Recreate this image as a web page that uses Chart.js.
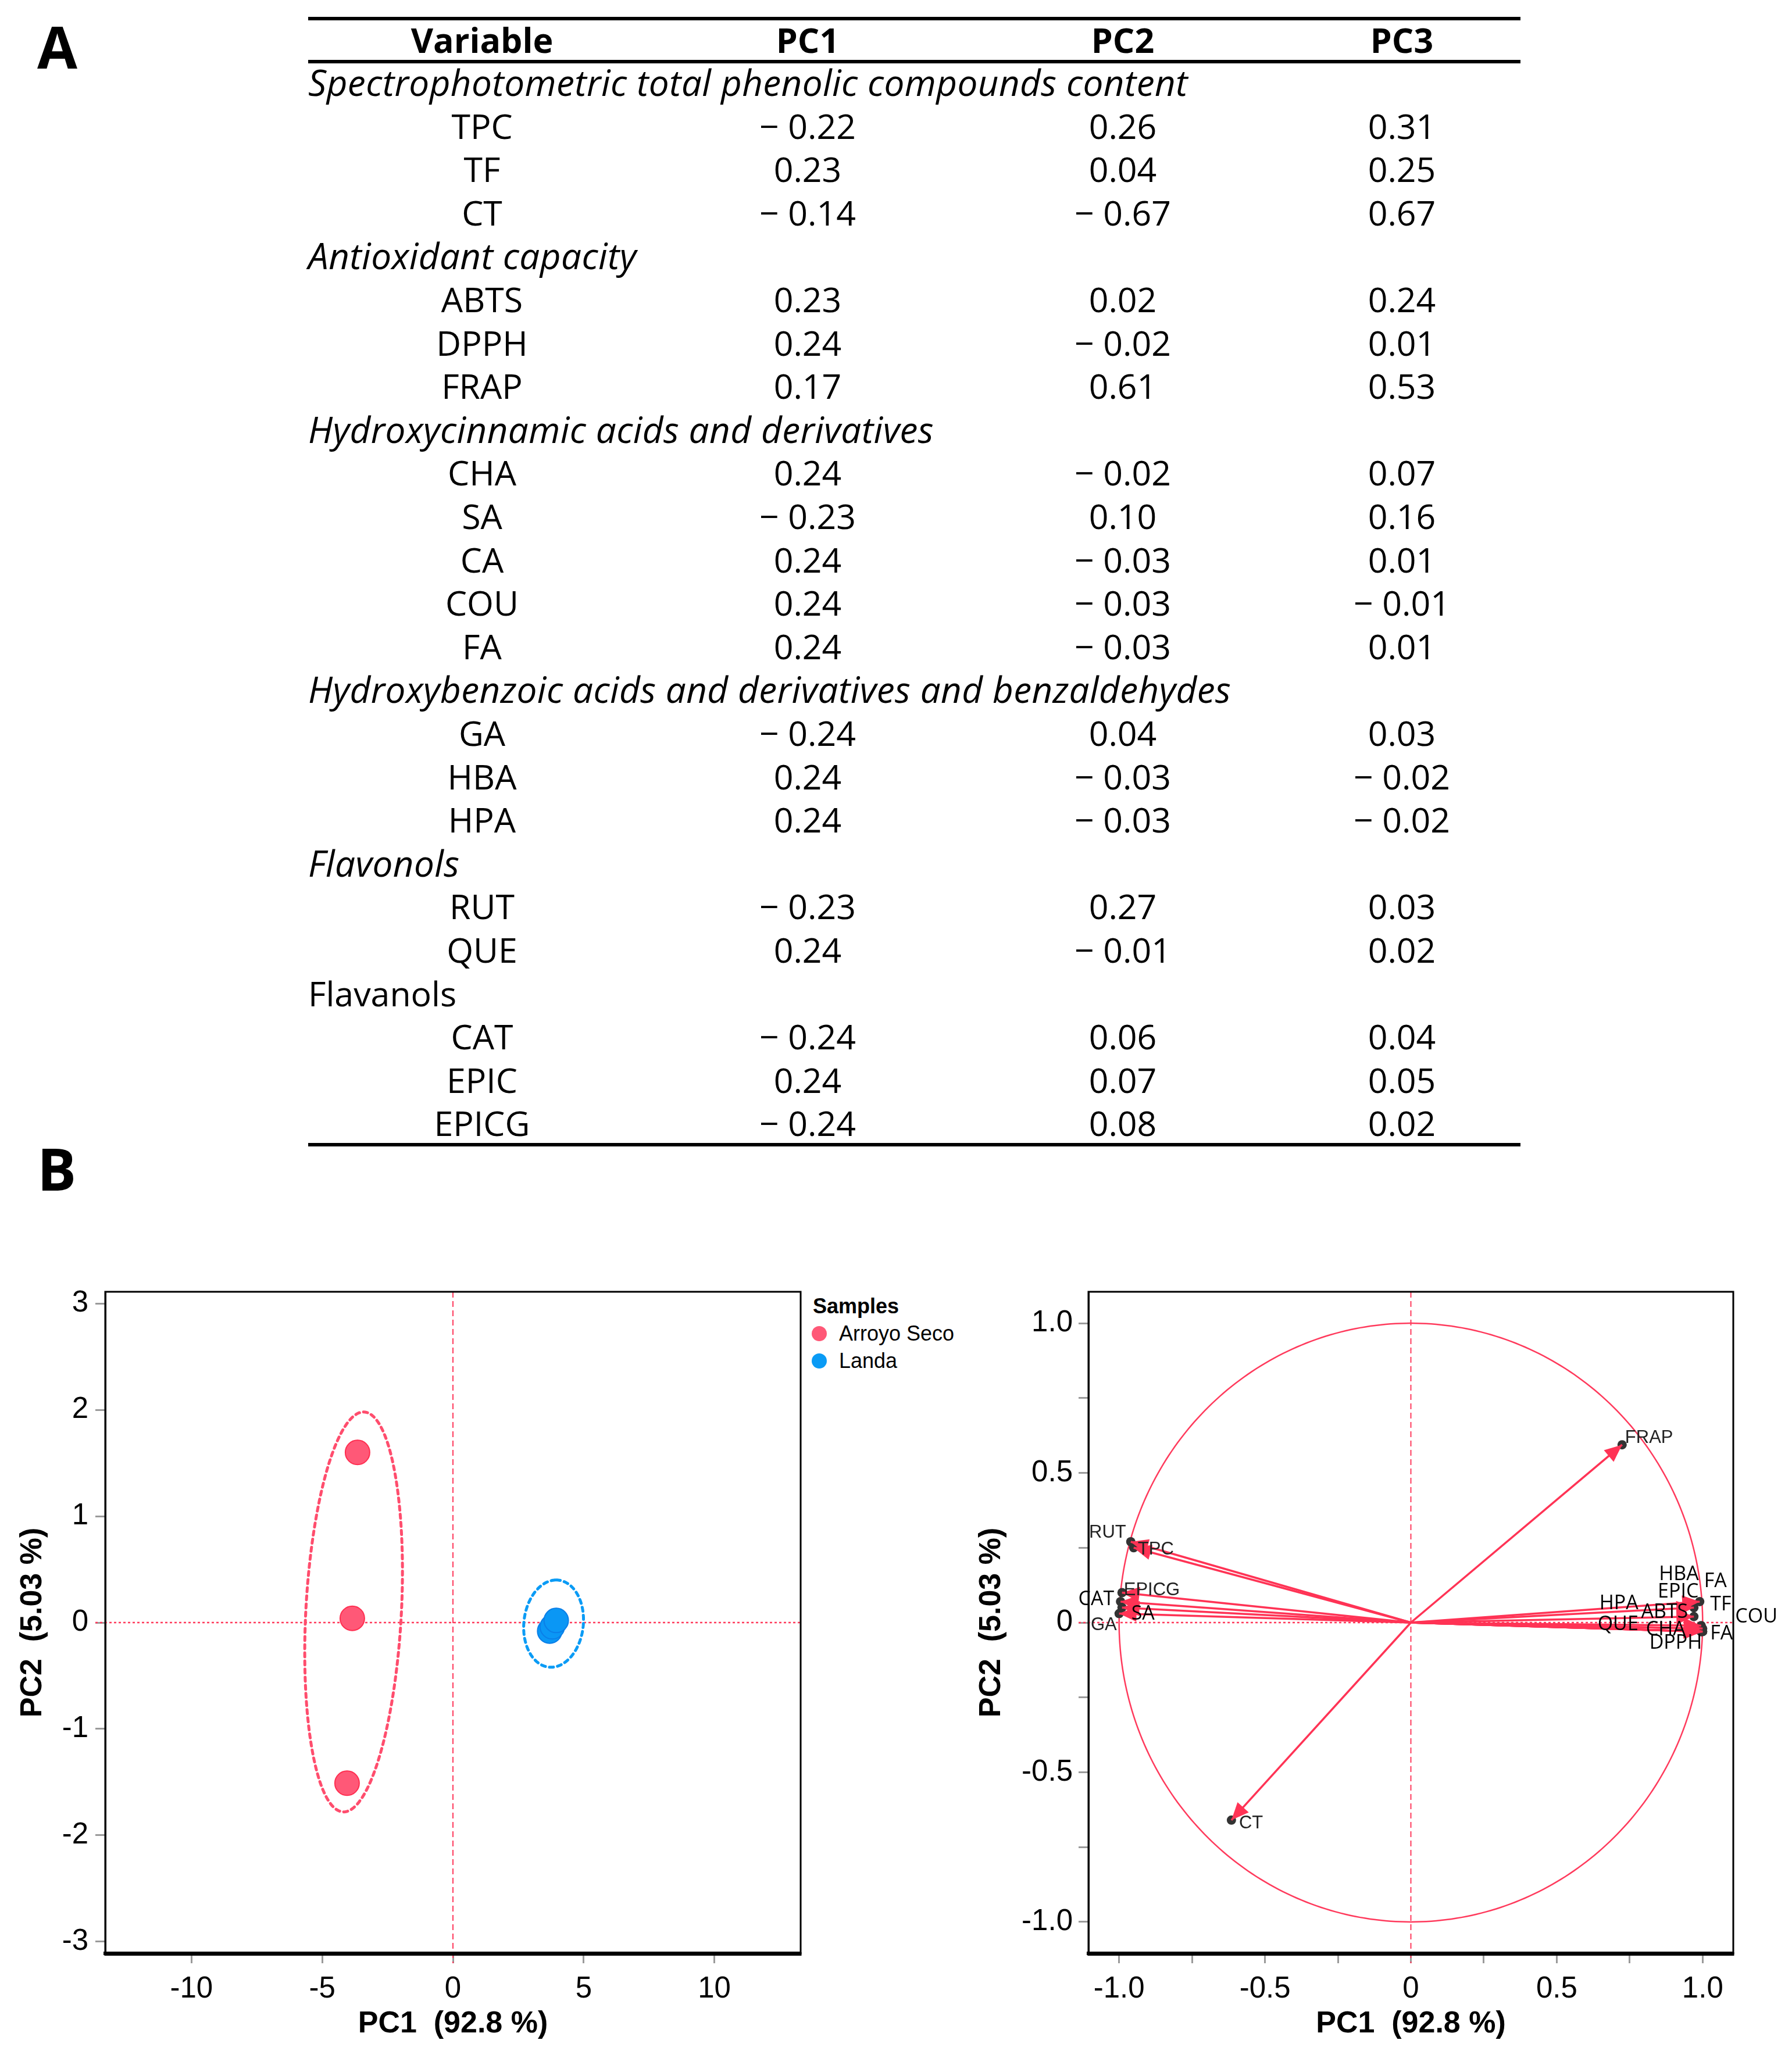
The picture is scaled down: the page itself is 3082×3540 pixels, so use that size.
<!DOCTYPE html>
<html><head><meta charset="utf-8">
<script src="https://cdn.jsdelivr.net/npm/chart.js@4.4.1/dist/chart.umd.min.js"></script>
<style>
html,body{margin:0;padding:0;background:#fff;}
body{width:3082px;height:3540px;position:relative;overflow:hidden;}
.abs{position:absolute;white-space:nowrap;}
.tbl{font-family:"Open Sans",Lato,sans-serif;font-size:59px;color:#000;height:74px;line-height:74px;}
.it{font-style:italic;font-size:62px;letter-spacing:0.4px;}
.c{text-align:center;width:700px;}
.rule{position:absolute;left:530px;width:2085px;height:6px;background:#000;}
.panel{font-family:"Open Sans",Lato,sans-serif;font-weight:bold;font-size:100px;height:110px;line-height:110px;}
.leg{font-family:"Liberation Sans",Arial,Helvetica,sans-serif;font-size:36px;height:44px;line-height:44px;}
.dot{position:absolute;width:26px;height:26px;border-radius:50%;}
canvas{position:absolute;}
</style></head><body>
<div class="abs panel" style="left:64px;top:24px;">A</div>
<div class="abs panel" style="left:64px;top:1954px;">B</div>
<div id="table"></div>
<div class="abs leg" style="left:1398px;top:2225px;font-weight:bold;">Samples</div>
<div class="dot" style="left:1396px;top:2281px;background:#FF5877;"></div>
<div class="abs leg" style="left:1443px;top:2272px;">Arroyo Seco</div>
<div class="dot" style="left:1396px;top:2328px;background:#0A9BF5;"></div>
<div class="abs leg" style="left:1443px;top:2319px;">Landa</div>
<canvas id="scores" width="1400" height="1390" style="left:0;top:2150px;"></canvas>
<canvas id="circle" width="1462" height="1390" style="left:1620px;top:2150px;"></canvas>
<script>
// ---------- Table A data ----------
const tableHeader = ['Variable', 'PC1', 'PC2', 'PC3'];
const groupNames = [
  'Spectrophotometric total phenolic compounds content',
  'Antioxidant capacity',
  'Hydroxycinnamic acids and derivatives',
  'Hydroxybenzoic acids and derivatives and benzaldehydes',
  'Flavonols',
  'Flavanols'
];
const groupSizes = [3, 3, 5, 3, 2, 3];
const groupItalic = [true, true, true, true, true, false];
const variables = ['TPC','TF','CT','ABTS','DPPH','FRAP','CHA','SA','CA','COU','FA','GA','HBA','HPA','RUT','QUE','CAT','EPIC','EPICG'];
const pc1 = [-0.22, 0.23, -0.14, 0.23, 0.24, 0.17, 0.24, -0.23, 0.24, 0.24, 0.24, -0.24, 0.24, 0.24, -0.23, 0.24, -0.24, 0.24, -0.24];
const pc2 = [0.26, 0.04, -0.67, 0.02, -0.02, 0.61, -0.02, 0.10, -0.03, -0.03, -0.03, 0.04, -0.03, -0.03, 0.27, -0.01, 0.06, 0.07, 0.08];
const pc3 = [0.31, 0.25, 0.67, 0.24, 0.01, 0.53, 0.07, 0.16, 0.01, -0.01, 0.01, 0.03, -0.02, -0.02, 0.03, 0.02, 0.04, 0.05, 0.02];

// ---------- Score plot data ----------
const sampleGroups = ['Arroyo Seco', 'Landa'];
const arroyoPC1 = [-3.65, -3.85, -4.05];
const arroyoPC2 = [1.60, 0.04, -1.51];
const landaPC1 = [3.70, 3.80, 3.95];
const landaPC2 = [-0.08, -0.04, 0.02];
// group ellipses: centre, first and second semi-axis vectors (data units)
const ellipseCentre = [[-3.80, 0.10], [3.85, -0.01]];
const ellipseAxisU = [[0.38, 1.88], [0.10, 0.41]];
const ellipseAxisV = [[1.83, 0.00], [1.14, 0.00]];
const scoreTicksX = [-10, -5, 0, 5, 10];
const scoreTicksY = [-3, -2, -1, 0, 1, 2, 3];

// ---------- Correlation circle data ----------
const corrLabels = ['TPC','TF','CT','ABTS','DPPH','FRAP','CHA','SA','FA','COU','FA','GA','HBA','HPA','RUT','QUE','CAT','EPIC','EPICG'];
const corrPC1 = [-0.95, 0.97, -0.615, 0.97, 1.00, 0.724, 0.995, -0.99, 1.00, 1.00, 0.995, -1.00, 0.995, 0.995, -0.96, 0.995, -0.995, 0.99, -0.99];
const corrPC2 = [0.25, 0.05, -0.66, 0.02, -0.02, 0.594, -0.02, 0.05, -0.03, -0.03, -0.03, 0.03, -0.03, -0.03, 0.27, -0.01, 0.07, 0.07, 0.10];
const corrTickLabels = ['-1.0', '-0.5', '0', '0.5', '1.0'];

// ---------- label placement (pixels relative to arrow tip) ----------
const labelDX = [7, 28, 13, -10, -1, 5, -27, 16, 13, 56, 5, -4, -4, -108, -8, -108, -11, -2, 3];
const labelDY = [3, -5, 6, -7, 25, -12, 2, 11, 4, -25, -86, 20, -98, -48, -16, -2, -4, -17, -4];
const labelAlign = ['left','left','left','right','right','left','right','left','left','left','left','right','right','right','right','right','right','right','left'];
const labelNarrow = [true,false,true,false,false,true,false,false,false,false,false,true,false,false,true,false,false,false,true];

// ---------- build table ----------
(function buildTable(){
  const host = document.getElementById('table');
  const colCentres = [829, 1389, 1931, 2411];
  const fmt = v => (v < 0 ? '\u2212 ' + Math.abs(v).toFixed(2) : v.toFixed(2));
  function cell(text, cx, cy, opts){
    const d = document.createElement('div');
    d.className = 'abs tbl' + (opts && opts.left ? '' : ' c') + (opts && opts.italic ? ' it' : '');
    d.textContent = text;
    d.style.top = (cy - 37) + 'px';
    if (opts && opts.left) d.style.left = cx + 'px'; else d.style.left = (cx - 350) + 'px';
    if (opts && opts.bold) d.style.fontWeight = 'bold';
    host.appendChild(d);
  }
  tableHeader.forEach((h, i) => cell(h, colCentres[i], 68, {bold:true}));
  const step = 74.6; let row = 0; let vi = 0;
  groupNames.forEach((g, gi) => {
    cell(g, 530, 141 + step * row, {left:true, italic:groupItalic[gi]}); row++;
    for (let k = 0; k < groupSizes[gi]; k++) {
      const cy = 141 + step * row;
      cell(variables[vi], colCentres[0], cy);
      cell(fmt(pc1[vi]), colCentres[1], cy);
      cell(fmt(pc2[vi]), colCentres[2], cy);
      cell(fmt(pc3[vi]), colCentres[3], cy);
      vi++; row++;
    }
  });
  [29, 103, 1966].forEach(t => { const r = document.createElement('div'); r.className = 'rule'; r.style.top = t + 'px'; host.appendChild(r); });
})();

// ---------- shared chart helpers ----------
const tickFamily = '"Liberation Sans", Arial, Helvetica, sans-serif';
const RED = '#FF3A5C';
function axisOpts(o){
  return {
    type: 'linear', min: o.min, max: o.max,
    ticks: { stepSize: o.step, includeBounds: false, autoSkip: false, maxRotation: 0, padding: o.pad,
             font: { family: tickFamily, size: 51 }, color: '#000', callback: o.cb },
    grid: { display: true, drawOnChartArea: false, drawTicks: true, tickLength: 17, tickColor: '#9a9a9a', tickWidth: 3 },
    border: { display: true, color: '#000', width: o.bw },
    title: { display: true, text: o.title, color: '#000', font: { family: tickFamily, size: 52, weight: 'bold' }, padding: o.tpad },
    afterFit: o.fit
  };
}
const boxPlugin = { id: 'box', afterDraw(chart){
  const {ctx, chartArea: a} = chart; ctx.save(); ctx.strokeStyle = '#000'; ctx.lineWidth = 3;
  ctx.strokeRect(a.left, a.top, a.right - a.left, a.bottom - a.top);
  ctx.lineWidth = 6; ctx.beginPath(); ctx.moveTo(a.left - 1.5, a.bottom + 1); ctx.lineTo(a.right + 1.5, a.bottom + 1); ctx.stroke();
  ctx.restore(); } };
const zeroPlugin = { id: 'zero', beforeDatasetsDraw(chart){
  const {ctx, chartArea: a, scales: {x, y}} = chart; const x0 = x.getPixelForValue(0), y0 = y.getPixelForValue(0);
  ctx.save(); ctx.strokeStyle = RED; ctx.lineWidth = 2; ctx.setLineDash([10, 6]);
  ctx.beginPath(); ctx.moveTo(x0, a.top); ctx.lineTo(x0, a.bottom + 17); ctx.stroke();
  ctx.setLineDash([4, 4]); ctx.lineWidth = 2.5;
  ctx.beginPath(); ctx.moveTo(a.left - 17, y0); ctx.lineTo(a.right, y0); ctx.stroke(); ctx.restore(); } };

// ---------- score plot ----------
const ellipseColours = ['#FF4D6D', '#0A9BF5'];
const ellipsePlugin = { id: 'ellipses', beforeDatasetsDraw(chart){
  const {ctx, scales: {x, y}} = chart; ctx.save(); ctx.lineWidth = 5; ctx.setLineDash([7, 7]); ctx.lineCap = 'round';
  ellipseCentre.forEach((c, i) => {
    ctx.strokeStyle = ellipseColours[i]; ctx.beginPath();
    for (let k = 0; k <= 180; k++) {
      const t = k / 180 * Math.PI * 2;
      const vx = c[0] + ellipseAxisU[i][0] * Math.cos(t) + ellipseAxisV[i][0] * Math.sin(t);
      const vy = c[1] + ellipseAxisU[i][1] * Math.cos(t) + ellipseAxisV[i][1] * Math.sin(t);
      const px = x.getPixelForValue(vx), py = y.getPixelForValue(vy);
      if (k === 0) ctx.moveTo(px, py); else ctx.lineTo(px, py);
    }
    ctx.stroke();
  });
  ctx.restore(); } };

new Chart(document.getElementById('scores'), {
  type: 'scatter',
  data: { datasets: [
    { label: sampleGroups[0], data: arroyoPC1.map((v, i) => ({x: v, y: arroyoPC2[i]})), pointRadius: 21, backgroundColor: '#FF5877', borderColor: '#FF2E50', borderWidth: 2 },
    { label: sampleGroups[1], data: landaPC1.map((v, i) => ({x: v, y: landaPC2[i]})), pointRadius: 21, backgroundColor: '#0A97F5', borderColor: '#0A7FE8', borderWidth: 2 }
  ]},
  options: {
    responsive: false, devicePixelRatio: 1, animation: false,
    layout: { padding: { left: 0, top: 72, right: 18, bottom: 0 } },
    plugins: { legend: { display: false }, tooltip: { enabled: false } },
    scales: {
      x: axisOpts({ min: -13.3, max: 13.3, step: 5, pad: 14, bw: 6, title: 'PC1  (92.8 %)', tpad: {top: 0, bottom: 27},
                    cb: v => (scoreTicksX.includes(v) ? String(v) : ''), fit: s => { s.height = 180; } }),
      y: axisOpts({ min: -3.11, max: 3.11, step: 1, pad: 12, bw: 3, title: 'PC2  (5.03 %)', tpad: {top: 25, bottom: 0},
                    cb: v => (scoreTicksY.includes(v) ? String(v) : ''), fit: s => { s.width = 181; } })
    }
  },
  plugins: [zeroPlugin, ellipsePlugin, boxPlugin]
});

// ---------- correlation circle ----------
const circlePlugin = { id: 'circle', beforeDatasetsDraw(chart){
  const {ctx, scales: {x, y}} = chart; ctx.save(); ctx.strokeStyle = RED; ctx.lineWidth = 2.5; ctx.beginPath();
  for (let k = 0; k <= 360; k++) { const t = k / 360 * Math.PI * 2;
    const px = x.getPixelForValue(Math.cos(t)), py = y.getPixelForValue(Math.sin(t));
    if (k === 0) ctx.moveTo(px, py); else ctx.lineTo(px, py); }
  ctx.stroke(); ctx.restore(); } };
const arrowPlugin = { id: 'arrows', afterDatasetsDraw(chart){
  const {ctx, scales: {x, y}} = chart; const x0 = x.getPixelForValue(0), y0 = y.getPixelForValue(0);
  ctx.save(); ctx.fillStyle = '#FF3355';
  corrPC1.forEach((v, i) => {
    const px = x.getPixelForValue(v), py = y.getPixelForValue(corrPC2[i]);
    const ang = Math.atan2(py - y0, px - x0), L = 30, W = 13;
    ctx.beginPath(); ctx.moveTo(px, py);
    ctx.lineTo(px - L * Math.cos(ang) + W * Math.sin(ang), py - L * Math.sin(ang) - W * Math.cos(ang));
    ctx.lineTo(px - L * Math.cos(ang) - W * Math.sin(ang), py - L * Math.sin(ang) + W * Math.cos(ang));
    ctx.closePath(); ctx.fill();
  });
  ctx.textBaseline = 'middle';
  corrLabels.forEach((lab, i) => {
    const px = x.getPixelForValue(corrPC1[i]), py = y.getPixelForValue(corrPC2[i]);
    ctx.font = labelNarrow[i] ? '31px "Liberation Sans", Arial, sans-serif' : '34px "Open Sans", "DejaVu Sans", sans-serif';
    ctx.fillStyle = labelNarrow[i] ? '#222' : '#000';
    ctx.textAlign = labelAlign[i];
    ctx.fillText(lab, px + labelDX[i], py + labelDY[i]);
  });
  ctx.restore(); } };

const arrowSets = corrPC1.map((v, i) => ({
  label: corrLabels[i], data: [{x: 0, y: 0}, {x: v, y: corrPC2[i]}], showLine: true,
  borderColor: '#FF3355', borderWidth: 3.5, pointRadius: 0, order: 1
}));
arrowSets.push({ label: 'tips', data: corrPC1.map((v, i) => ({x: v, y: corrPC2[i]})), pointRadius: 8,
  backgroundColor: '#333', borderWidth: 0, order: 2 });

const corrTick = v => { const s = (Math.abs(v) < 1e-9 ? '0' : v.toFixed(1)); return corrTickLabels.includes(s) && Math.abs(v * 2 - Math.round(v * 2)) < 1e-6 ? s : ''; };
new Chart(document.getElementById('circle'), {
  type: 'scatter',
  data: { datasets: arrowSets },
  options: {
    responsive: false, devicePixelRatio: 1, animation: false,
    layout: { padding: { left: 0, top: 72, right: 101, bottom: 0 } },
    plugins: { legend: { display: false }, tooltip: { enabled: false } },
    scales: {
      x: axisOpts({ min: -1.105, max: 1.105, step: 0.25, pad: 14, bw: 6, title: 'PC1  (92.8 %)', tpad: {top: 0, bottom: 27},
                    cb: corrTick, fit: s => { s.height = 180; } }),
      y: axisOpts({ min: -1.105, max: 1.105, step: 0.25, pad: 10, bw: 3, title: 'PC2  (5.03 %)', tpad: {top: 54, bottom: 0},
                    cb: corrTick, fit: s => { s.width = 252; } })
    }
  },
  plugins: [zeroPlugin, circlePlugin, arrowPlugin, boxPlugin]
});
</script>
</body></html>
